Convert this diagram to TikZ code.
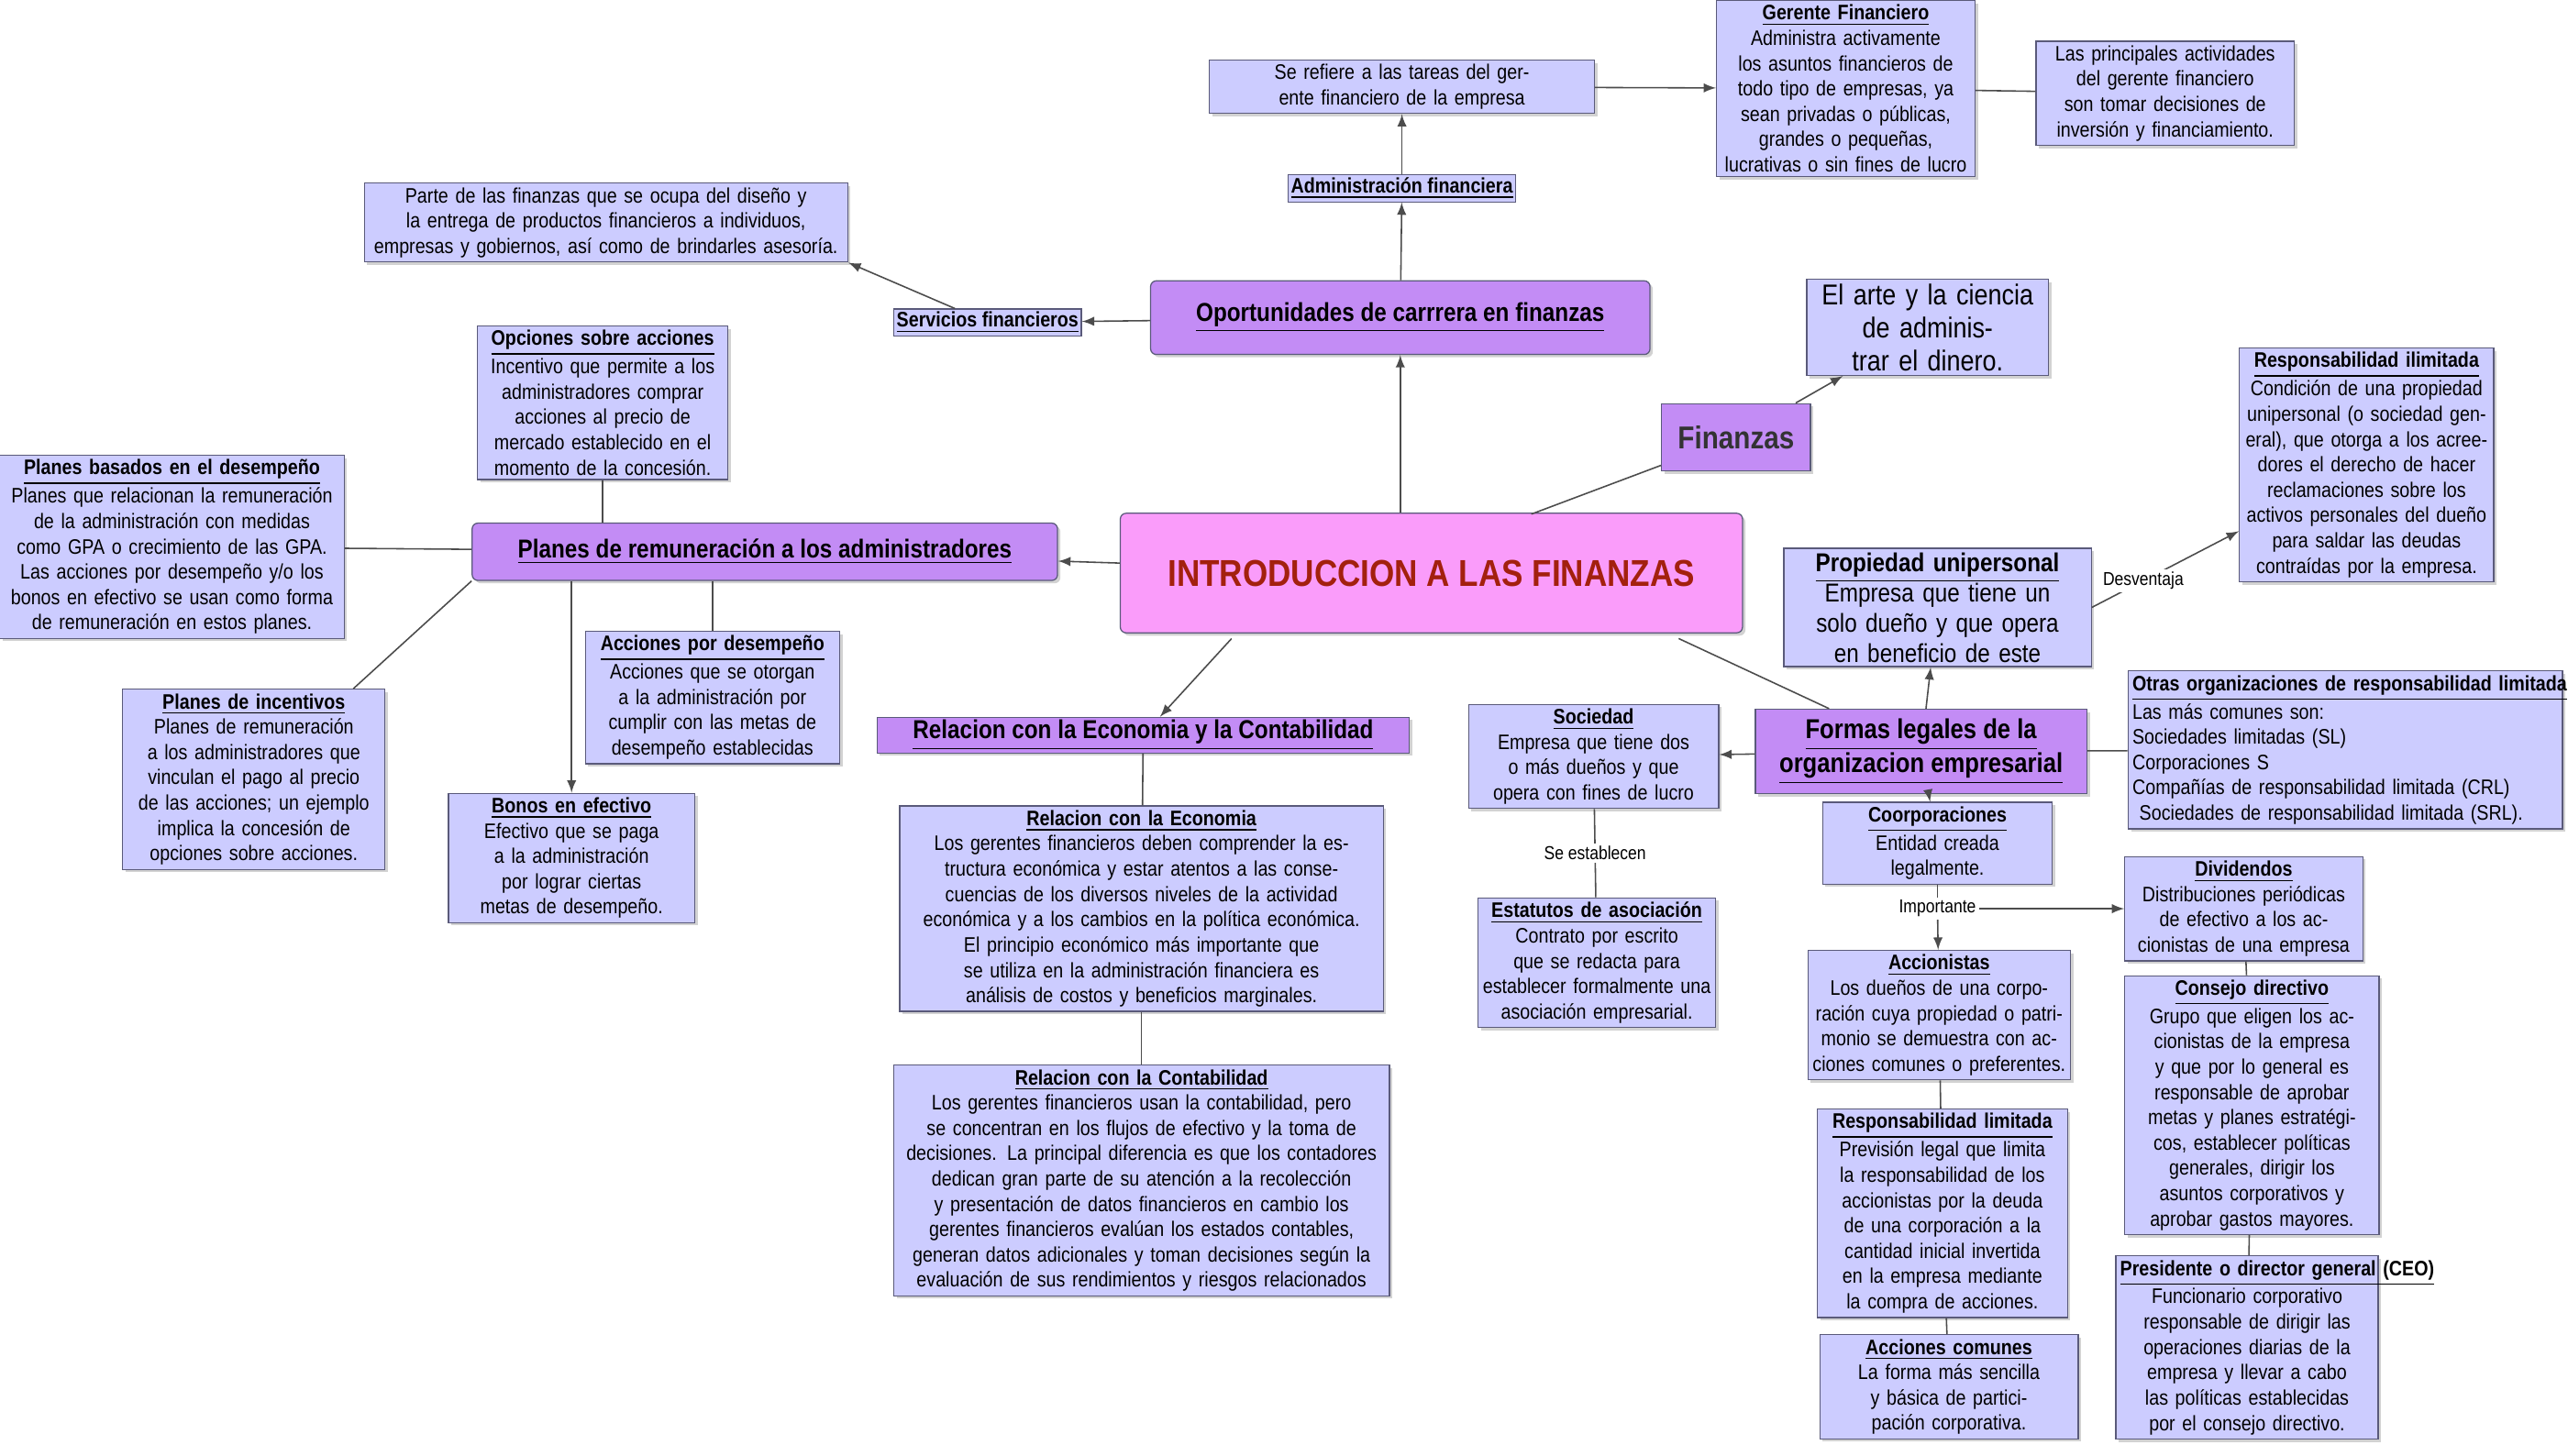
\documentclass[tikz,border=0pt]{standalone}
\usepackage{fontspec}
\setmainfont[FakeStretch=0.86]{Liberation Sans}
\usetikzlibrary{shadows}
\definecolor{boxfill}{HTML}{CCCCFF}
\definecolor{boxdraw}{HTML}{5A5A7A}
\definecolor{hubfill}{HTML}{C38CF5}
\definecolor{mainfill}{HTML}{FA9CFA}
\definecolor{maintext}{HTML}{A3200E}
\tikzset{
  box/.style={draw=boxdraw, fill=boxfill, align=center, inner sep=1.5pt,
    font=\fontsize{7.3}{8.8}\selectfont, drop shadow={shadow xshift=1pt, shadow yshift=-1pt, opacity=.35}},
  hub/.style={draw=boxdraw, fill=hubfill, rounded corners=2pt, align=center,
    font=\fontsize{9}{10.5}\selectfont\bfseries, drop shadow={shadow xshift=1pt, shadow yshift=-1pt, opacity=.35}},
  tag/.style={draw=boxdraw, fill=boxfill, inner sep=1pt, font=\fontsize{7.3}{8.8}\selectfont\bfseries},
  lnk/.style={draw=black!70, line width=0.5pt},
  arr/.style={lnk, -latex},
  lbl/.style={fill=white, inner sep=1pt, font=\fontsize{6.5}{7.5}\selectfont}
}
\newcommand{\ttl}[1]{\textbf{\underline{#1}}}
\begin{document}
\begin{tikzpicture}[x=0.02cm, y=-0.02cm]
\useasboundingbox[fill=white] (0,0) rectangle (1568,889);
% central nodes
\node[draw=boxdraw, fill=mainfill, rounded corners=2pt, minimum width=7.6cm, minimum height=1.46cm,
  text=maintext, font=\fontsize{13}{15}\selectfont\bfseries,
  drop shadow={shadow xshift=1pt, shadow yshift=-1pt, opacity=.35}] (intro) at (874,350) {INTRODUCCION A LAS FINANZAS};
\node[hub, minimum width=1.82cm, minimum height=0.82cm, rounded corners=0pt, font=\fontsize{11}{13}\selectfont\bfseries, text=black!80] (fin) at (1060,267) {Finanzas};
\node[box, font=\fontsize{10}{11.5}\selectfont, text width=2.85cm] (arte) at (1177,200) {El arte y la ciencia de administrar el dinero.};
\node[hub, minimum width=6.1cm, minimum height=0.9cm] (oport) at (855,194) {\underline{Oportunidades de carrrera en finanzas}};
\node[tag] (adm) at (856,115) {\underline{Administración financiera}};
\node[box, text width=4.6cm] (tareas) at (856,53) {Se refiere a las tareas del gerente financiero de la empresa};
\node[box, text width=3.05cm] (gerente) at (1127,54) {\ttl{Gerente Financiero}\\Administra activamente los asuntos financieros de todo tipo de empresas, ya sean privadas o públicas, grandes o pequeñas, lucrativas o sin fines de lucro};
\node[box, text width=3.05cm] (activ) at (1322,57) {Las principales actividades del gerente financiero son tomar decisiones de inversión y financiamiento.};
\node[tag] (serv) at (603,197) {\underline{Servicios financieros}};
\node[box, text width=5.8cm] (parte) at (370,136) {Parte de las finanzas que se ocupa del diseño y la entrega de productos financieros a individuos, empresas y gobiernos, así como de brindarles asesoría.};
% planes de remuneracion
\node[hub, minimum width=7.15cm, minimum height=0.7cm] (planes) at (467,337) {\underline{Planes de remuneración a los administradores}};
\node[box, text width=2.95cm] (opc) at (368,246) {\ttl{Opciones sobre acciones}\\Incentivo que permite a los administradores comprar acciones al precio de mercado establecido en el momento de la concesión.};
\node[box, text width=4.1cm] (basados) at (105,334) {\ttl{Planes basados en el desempeño}\\Planes que relacionan la remuneración de la administración con medidas como GPA o crecimiento de las GPA. Las acciones por desempeño y/o los bonos en efectivo se usan como forma de remuneración en estos planes.};
\node[box, text width=3.1cm] (incent) at (155,476) {\ttl{Planes de incentivos}\\Planes de remuneración a los administradores que vinculan el pago al precio de las acciones; un ejemplo implica la concesión de opciones sobre acciones.};
\node[box, text width=2.9cm] (bonos) at (349,524) {\ttl{Bonos en efectivo}\\Efectivo que se paga a la administración por lograr ciertas metas de desempeño.};
\node[box, text width=3.0cm] (accdes) at (435,426) {\ttl{Acciones por desempeño}\\Acciones que se otorgan a la administración por cumplir con las metas de desempeño establecidas};
% economia y contabilidad
\node[hub, rounded corners=0pt, minimum width=6.5cm, inner sep=1pt] (rel) at (698,449) {\underline{Relacion con la Economia y la Contabilidad}};
\node[box, text width=5.8cm] (eco) at (697,555) {\ttl{Relacion con la Economia}\\Los gerentes financieros deben comprender la estructura económica y estar atentos a las consecuencias de los diversos niveles de la actividad económica y a los cambios en la política económica.\\El principio económico más importante que se utiliza en la administración financiera es análisis de costos y beneficios marginales.};
\node[box, text width=5.95cm] (conta) at (697,721) {\ttl{Relacion con la Contabilidad}\\Los gerentes financieros usan la contabilidad, pero se concentran en los flujos de efectivo y la toma de decisiones. La principal diferencia es que los contadores dedican gran parte de su atención a la recolección y presentación de datos financieros en cambio los gerentes financieros evalúan los estados contables, generan datos adicionales y toman decisiones según la evaluación de sus rendimientos y riesgos relacionados};
% formas legales
\node[hub, rounded corners=0pt, minimum width=4.05cm, minimum height=0.74cm, font=\fontsize{9.5}{10.5}\selectfont\bfseries] (formas) at (1173,459) {\underline{Formas legales de la}\\\underline{organizacion empresarial}};
\node[box, text width=3.65cm, font=\fontsize{9}{10.5}\selectfont] (prop) at (1183,371) {\ttl{Propiedad unipersonal}\\Empresa que tiene un solo dueño y que opera en beneficio de este};
\node[box, text width=3.0cm] (ilim) at (1445,284) {\ttl{Responsabilidad ilimitada}\\Condición de una propiedad unipersonal (o sociedad general), que otorga a los acreedores el derecho de hacer reclamaciones sobre los activos personales del dueño para saldar las deudas contraídas por la empresa.};
\node[box, text width=5.2cm, align=left] (otras) at (1432,458) {\ttl{Otras organizaciones de responsabilidad limitada}\\Las más comunes son:\\Sociedades limitadas (SL)\\Corporaciones S\\Compañías de responsabilidad limitada (CRL)\\\ Sociedades de responsabilidad limitada (SRL).};
\node[box, text width=2.95cm] (soc) at (973,462) {\ttl{Sociedad}\\Empresa que tiene dos o más dueños y que opera con fines de lucro};
\node[box, text width=2.8cm] (estat) at (975,588) {\ttl{Estatutos de asociación}\\Contrato por escrito que se redacta para establecer formalmente una asociación empresarial.};
\node[box, text width=2.7cm] (corp) at (1183,515) {\ttl{Coorporaciones}\\Entidad creada legalmente.};
\node[box, text width=2.8cm] (divid) at (1370,555) {\ttl{Dividendos}\\Distribuciones periódicas de efectivo a los accionistas de una empresa};
\node[box, text width=3.1cm] (accion) at (1184,620) {\ttl{Accionistas}\\Los dueños de una corporación cuya propiedad o patrimonio se demuestra con acciones comunes o preferentes.};
\node[box, text width=3.0cm] (consejo) at (1375,675) {\ttl{Consejo directivo}\\Grupo que eligen los accionistas de la empresa y que por lo general es responsable de aprobar metas y planes estratégicos, establecer políticas generales, dirigir los asuntos corporativos y aprobar gastos mayores.};
\node[box, text width=2.95cm] (limit) at (1186,741) {\ttl{Responsabilidad limitada}\\Previsión legal que limita la responsabilidad de los accionistas por la deuda de una corporación a la cantidad inicial invertida en la empresa mediante la compra de acciones.};
\node[box, text width=3.1cm] (pres) at (1372,823) {\ttl{Presidente o director general (CEO)}\\Funcionario corporativo responsable de dirigir las operaciones diarias de la empresa y llevar a cabo las políticas establecidas por el consejo directivo.};
\node[box, text width=3.05cm] (comun) at (1190,847) {\ttl{Acciones comunes}\\La forma más sencilla y básica de participación corporativa.};
\coordinate (imp) at (1183,555);
% connectors
\draw[arr] (intro.north -| oport) -- (oport);
\draw[arr] (oport) -- (adm);
\draw[arr] (adm) -- (tareas);
\draw[arr] (tareas) -- (gerente);
\draw[lnk] (gerente) -- (activ);
\draw[arr] (oport) -- (serv);
\draw[arr] (serv) -- (parte.south east);
\draw[arr] (intro) -- (planes);
\draw[lnk] (planes.north -| opc) -- (opc);
\draw[lnk] (planes) -- (basados);
\draw[lnk] (planes.south west) -- (incent);
\draw[arr] (planes.south -| bonos) -- (bonos);
\draw[lnk] (planes.south -| accdes) -- (accdes);
\draw[arr] (752,390) -- (rel);
\draw[lnk] (rel) -- (eco);
\draw[lnk] (eco) -- (conta);
\draw[lnk] (935,314) -- (fin);
\draw[arr] (fin) -- (arte);
\draw[lnk] (1025,390) -- (formas);
\draw[arr] (formas) -- (prop);
\draw[arr] (prop.east) -- node[lbl, pos=0.35]{Desventaja} (ilim);
\draw[arr] (formas) -- (soc);
\draw[lnk] (formas) -- (otras);
\draw[lnk] (soc) -- node[lbl]{Se establecen} (estat);
\draw[arr] (formas) -- (corp);
\draw[lnk] (corp) -- (imp);
\draw[arr] (imp) -- (accion);
\draw[arr] (imp) -- (divid);
\node[lbl] at (imp) {Importante};
\draw[lnk] (accion) -- (limit);
\draw[lnk] (limit) -- (comun);
\draw[lnk] (divid) -- (consejo);
\draw[lnk] (consejo) -- (pres);
\end{tikzpicture}
\end{document}
